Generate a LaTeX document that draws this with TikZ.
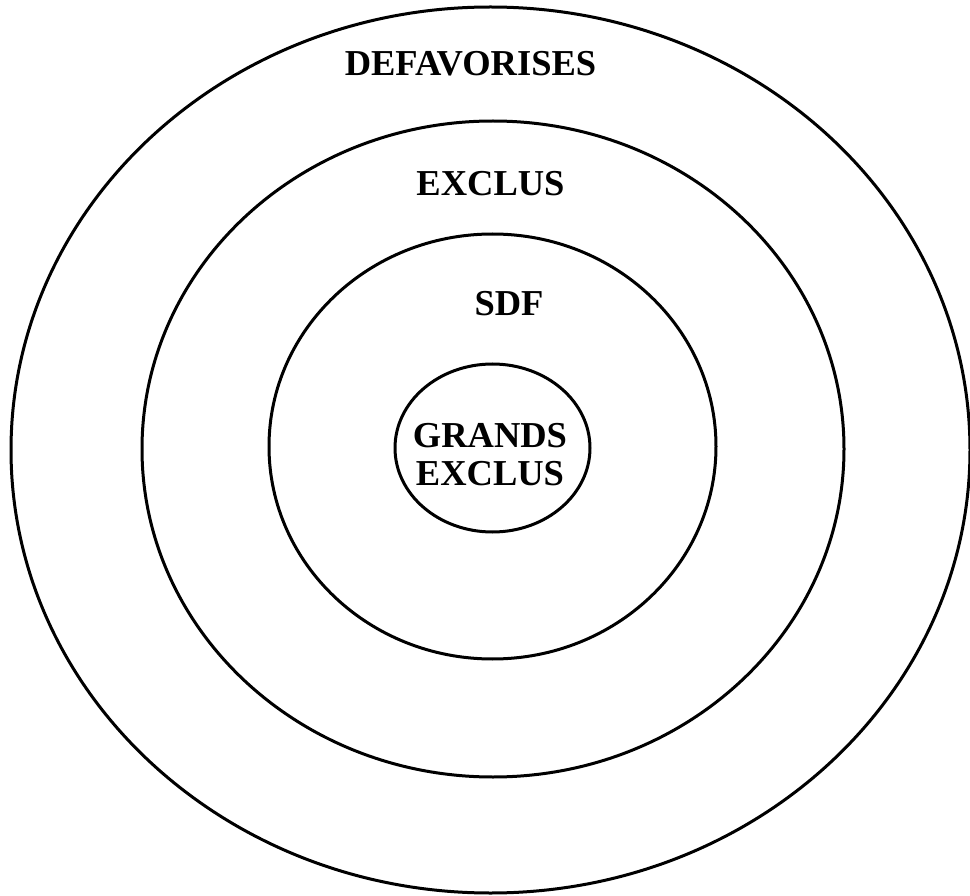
\documentclass[tikz,border=0pt]{standalone}
\usepackage{fontspec}
\setmainfont{Liberation Serif}
\begin{document}
\begin{tikzpicture}[x=1pt,y=-1pt,
  ring/.style={draw=black,line width=3pt},
  lbl/.style={font=\fontsize{36.5}{38}\selectfont\bfseries,anchor=base,inner sep=0pt}]
\useasboundingbox (0,0) rectangle (970,896);
\draw[ring] (490.5,450) ellipse [x radius=479.5,y radius=443];
\draw[ring] (493,449) ellipse [x radius=351,y radius=328];
\draw[ring] (492.5,446.5) ellipse [x radius=223.5,y radius=212.5];
\draw[ring] (492.5,448) ellipse [x radius=97.5,y radius=84];
\node[lbl] (def) at (470.5,75.5) {DEFAVORISES};
\node[lbl] (exc) at (490.5,195.5) {EXCLUS};
\node[lbl] (sdf) at (509,315.5) {SDF};
\node[lbl] (gr1) at (490,447.5) {GRANDS};
\node[lbl] (gr2) at (490,485.5) {EXCLUS};
\end{tikzpicture}
\end{document}
